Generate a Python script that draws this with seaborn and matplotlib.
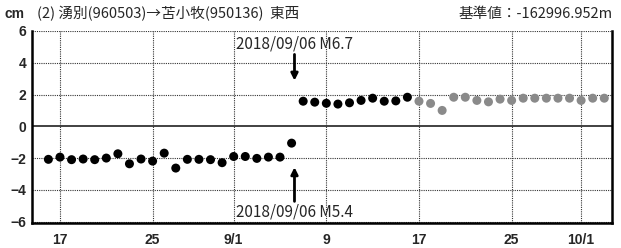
import seaborn as sns
import numpy as np
import pandas as pd
import matplotlib.pyplot as plt
import matplotlib.dates as mdates

# daily values (cm), 2018/08/16 - 2018/09/16 final, 09/17 - 10/03 preliminary
final_vals = [-2.08, -1.94, -2.10, -2.06, -2.10, -2.00, -1.73, -2.36, -2.06, -2.19, -1.69,
              -2.63, -2.08, -2.08, -2.10, -2.29, -1.90, -1.90, -2.02, -1.94, -1.94, -1.06,
              1.58, 1.52, 1.45, 1.40, 1.48, 1.63, 1.77, 1.58, 1.60, 1.83]
prelim_vals = [1.58, 1.44, 1.00, 1.83, 1.83, 1.63, 1.54, 1.71, 1.63, 1.77, 1.77, 1.77,
               1.77, 1.77, 1.63, 1.77, 1.77]
start = '2018-08-16'
tick_dates = ['2018-08-17', '2018-08-25', '2018-09-01', '2018-09-09',
              '2018-09-17', '2018-09-25', '2018-10-01']
tick_labels = ['17', '25', '9/1', '9', '17', '25', '10/1']
quake_date = '2018-09-06 06:00'

dates = pd.date_range(start, periods=len(final_vals) + len(prelim_vals), freq='D')
df = pd.DataFrame({'date': dates,
                   'value': final_vals + prelim_vals,
                   'kind': ['final'] * len(final_vals) + ['prelim'] * len(prelim_vals)})

sns.set_style('white')
jp = ['Noto Sans CJK JP', 'DejaVu Sans']
num = ['Liberation Sans Narrow', 'Liberation Sans', 'DejaVu Sans']

fig = plt.figure(figsize=(6.21, 2.48), dpi=100)
ax = fig.add_axes([0.0515, 0.100, 0.934, 0.775])

ax.axhline(0, color='#333333', lw=1.3, zorder=1)
sns.scatterplot(data=df, x='date', y='value', hue='kind',
                palette={'final': 'black', 'prelim': '#8a8a8a'},
                s=42, edgecolor='none', legend=False, ax=ax, zorder=3)

ax.set_xlim(pd.Timestamp('2018-08-14 14:00'), pd.Timestamp('2018-10-03 16:00'))
ax.set_ylim(-6.1, 6.0)
ax.set_yticks([-6, -4, -2, 0, 2, 4, 6])
ax.set_yticklabels(['−6', '−4', '−2', '0', '2', '4', '6'], family=num,
                   fontweight='bold', fontsize=10)
ax.set_xticks(pd.to_datetime(tick_dates))
ax.set_xticklabels(tick_labels, family=num, fontweight='bold', fontsize=10)
ax.tick_params(axis='x', length=0, pad=7)
ax.tick_params(axis='y', length=0, pad=4)
ax.set_xlabel('')
ax.set_ylabel('')

for y in [-6, -4, -2, 2, 4, 6]:
    ax.axhline(y, color='#333333', lw=0.8, ls=(0, (1, 1)), zorder=0)
for d in tick_dates:
    ax.axvline(pd.Timestamp(d), color='#333333', lw=0.8, ls=(0, (1, 1)), zorder=0)

for side in ['left', 'bottom', 'right']:
    ax.spines[side].set_color('black')
    ax.spines[side].set_linewidth(1.8)
ax.spines['top'].set_visible(False)

qx = mdates.date2num(pd.Timestamp(quake_date))
tx = mdates.date2num(pd.Timestamp('2018-09-01 04:00'))
ax.annotate('', xy=(qx, 2.7), xytext=(qx, 4.7),
            arrowprops=dict(arrowstyle='-|>', color='black', lw=2, mutation_scale=10))
ax.annotate('', xy=(qx, -2.4), xytext=(qx, -4.9),
            arrowprops=dict(arrowstyle='-|>', color='black', lw=2, mutation_scale=10))
ax.text(tx, 5.2, '2018/09/06 M6.7', family=jp, fontsize=11, va='center', ha='left')
ax.text(tx, -5.4, '2018/09/06 M5.4', family=jp, fontsize=11, va='center', ha='left')

fig.text(0.007, 0.945, 'cm', family=num, fontweight='bold', fontsize=10, va='center')
fig.text(0.060, 0.945, '(2) 湧別(960503)→苫小牧(950136)  東西', family=jp,
         fontsize=10.5, va='center')
fig.text(0.986, 0.945, '基準値：-162996.952m', family=jp, fontsize=10.5,
         va='center', ha='right')

fig.savefig('out.png', dpi=100)
